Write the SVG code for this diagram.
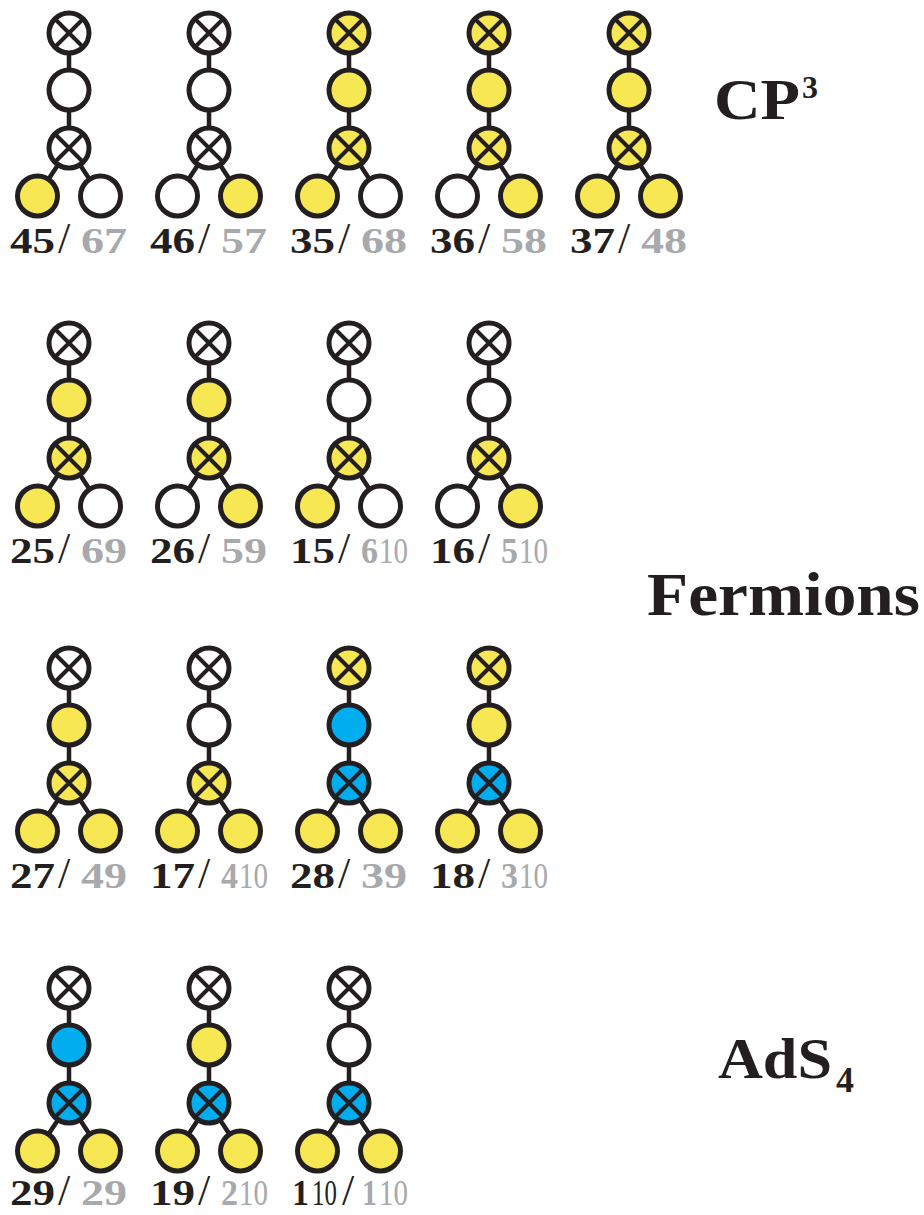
<svg xmlns="http://www.w3.org/2000/svg" xmlns:xlink="http://www.w3.org/1999/xlink" width="924" height="1215" viewBox="0 0 924 1215">
<style>
.nd circle{stroke:#231F20;stroke-width:5}
.w{fill:#FFFFFF}.y{fill:#F7E753}.b{fill:#00AEEF}
.x{stroke:#231F20;stroke-width:4;fill:none}
.cn{stroke:#231F20;stroke-width:4.5;fill:none}
.lbl{font-family:"Liberation Serif",serif;font-weight:bold;font-size:36px}
.k{fill:#231F20}.g{fill:#A7A9AC}.n{font-weight:normal}
.sl{font-weight:normal;font-size:44px;fill:#231F20}
.ttl{font-family:"Liberation Serif",serif;font-weight:bold;fill:#231F20}
</style>
<defs>
<path id="ox" class="x" d="M-14,-14L14,14M14,-14L-14,14"/>
<path id="tree" class="cn" d="M0,0V115L-31.5,163M0,115L31.5,163"/>
</defs>
<g id="connectors">
<use xlink:href="#tree" x="69" y="33"/><use xlink:href="#tree" x="209" y="33"/><use xlink:href="#tree" x="349" y="33"/><use xlink:href="#tree" x="489" y="33"/><use xlink:href="#tree" x="629" y="33"/>
<use xlink:href="#tree" x="69" y="343"/><use xlink:href="#tree" x="209" y="343"/><use xlink:href="#tree" x="349" y="343"/><use xlink:href="#tree" x="489" y="343"/>
<use xlink:href="#tree" x="69" y="668"/><use xlink:href="#tree" x="209" y="668"/><use xlink:href="#tree" x="349" y="668"/><use xlink:href="#tree" x="489" y="668"/>
<use xlink:href="#tree" x="69" y="988"/><use xlink:href="#tree" x="209" y="988"/><use xlink:href="#tree" x="349" y="988"/>
</g>

<!-- Row 1 -->
<g id="d45-67" class="nd" transform="translate(69,33)">
<circle class="w" r="20"/><use xlink:href="#ox"/><circle class="w" cy="57" r="20"/><circle class="w" cy="115" r="20"/><use xlink:href="#ox" y="115"/><circle class="y" cx="-31.5" cy="163" r="20"/><circle class="w" cx="31.5" cy="163" r="20"/>
<text class="lbl" y="220"><tspan class="k" x="-59" textLength="45" lengthAdjust="spacingAndGlyphs">45</tspan><tspan class="sl" x="-11">/</tspan><tspan class="g" x="12" textLength="46" lengthAdjust="spacingAndGlyphs">67</tspan></text>
</g>
<g id="d46-57" class="nd" transform="translate(209,33)">
<circle class="w" r="20"/><use xlink:href="#ox"/><circle class="w" cy="57" r="20"/><circle class="w" cy="115" r="20"/><use xlink:href="#ox" y="115"/><circle class="w" cx="-31.5" cy="163" r="20"/><circle class="y" cx="31.5" cy="163" r="20"/>
<text class="lbl" y="220"><tspan class="k" x="-59" textLength="45" lengthAdjust="spacingAndGlyphs">46</tspan><tspan class="sl" x="-11">/</tspan><tspan class="g" x="12" textLength="46" lengthAdjust="spacingAndGlyphs">57</tspan></text>
</g>
<g id="d35-68" class="nd" transform="translate(349,33)">
<circle class="y" r="20"/><use xlink:href="#ox"/><circle class="y" cy="57" r="20"/><circle class="y" cy="115" r="20"/><use xlink:href="#ox" y="115"/><circle class="y" cx="-31.5" cy="163" r="20"/><circle class="w" cx="31.5" cy="163" r="20"/>
<text class="lbl" y="220"><tspan class="k" x="-59" textLength="45" lengthAdjust="spacingAndGlyphs">35</tspan><tspan class="sl" x="-11">/</tspan><tspan class="g" x="12" textLength="46" lengthAdjust="spacingAndGlyphs">68</tspan></text>
</g>
<g id="d36-58" class="nd" transform="translate(489,33)">
<circle class="y" r="20"/><use xlink:href="#ox"/><circle class="y" cy="57" r="20"/><circle class="y" cy="115" r="20"/><use xlink:href="#ox" y="115"/><circle class="w" cx="-31.5" cy="163" r="20"/><circle class="y" cx="31.5" cy="163" r="20"/>
<text class="lbl" y="220"><tspan class="k" x="-59" textLength="45" lengthAdjust="spacingAndGlyphs">36</tspan><tspan class="sl" x="-11">/</tspan><tspan class="g" x="12" textLength="46" lengthAdjust="spacingAndGlyphs">58</tspan></text>
</g>
<g id="d37-48" class="nd" transform="translate(629,33)">
<circle class="y" r="20"/><use xlink:href="#ox"/><circle class="y" cy="57" r="20"/><circle class="y" cy="115" r="20"/><use xlink:href="#ox" y="115"/><circle class="y" cx="-31.5" cy="163" r="20"/><circle class="y" cx="31.5" cy="163" r="20"/>
<text class="lbl" y="220"><tspan class="k" x="-59" textLength="45" lengthAdjust="spacingAndGlyphs">37</tspan><tspan class="sl" x="-11">/</tspan><tspan class="g" x="12" textLength="46" lengthAdjust="spacingAndGlyphs">48</tspan></text>
</g>

<!-- Row 2 -->
<g id="d25-69" class="nd" transform="translate(69,343)">
<circle class="w" r="20"/><use xlink:href="#ox"/><circle class="y" cy="57" r="20"/><circle class="y" cy="115" r="20"/><use xlink:href="#ox" y="115"/><circle class="y" cx="-31.5" cy="163" r="20"/><circle class="w" cx="31.5" cy="163" r="20"/>
<text class="lbl" y="220"><tspan class="k" x="-59" textLength="45" lengthAdjust="spacingAndGlyphs">25</tspan><tspan class="sl" x="-11">/</tspan><tspan class="g" x="12" textLength="46" lengthAdjust="spacingAndGlyphs">69</tspan></text>
</g>
<g id="d26-59" class="nd" transform="translate(209,343)">
<circle class="w" r="20"/><use xlink:href="#ox"/><circle class="y" cy="57" r="20"/><circle class="y" cy="115" r="20"/><use xlink:href="#ox" y="115"/><circle class="w" cx="-31.5" cy="163" r="20"/><circle class="y" cx="31.5" cy="163" r="20"/>
<text class="lbl" y="220"><tspan class="k" x="-59" textLength="45" lengthAdjust="spacingAndGlyphs">26</tspan><tspan class="sl" x="-11">/</tspan><tspan class="g" x="12" textLength="46" lengthAdjust="spacingAndGlyphs">59</tspan></text>
</g>
<g id="d15-610" class="nd" transform="translate(349,343)">
<circle class="w" r="20"/><use xlink:href="#ox"/><circle class="w" cy="57" r="20"/><circle class="y" cy="115" r="20"/><use xlink:href="#ox" y="115"/><circle class="y" cx="-31.5" cy="163" r="20"/><circle class="w" cx="31.5" cy="163" r="20"/>
<text class="lbl" y="220"><tspan class="k" x="-59" textLength="45" lengthAdjust="spacingAndGlyphs">15</tspan><tspan class="sl" x="-11">/</tspan><tspan class="g" x="12" textLength="17" lengthAdjust="spacingAndGlyphs">6</tspan><tspan class="g n" x="30" textLength="29" lengthAdjust="spacingAndGlyphs">10</tspan></text>
</g>
<g id="d16-510" class="nd" transform="translate(489,343)">
<circle class="w" r="20"/><use xlink:href="#ox"/><circle class="w" cy="57" r="20"/><circle class="y" cy="115" r="20"/><use xlink:href="#ox" y="115"/><circle class="w" cx="-31.5" cy="163" r="20"/><circle class="y" cx="31.5" cy="163" r="20"/>
<text class="lbl" y="220"><tspan class="k" x="-59" textLength="45" lengthAdjust="spacingAndGlyphs">16</tspan><tspan class="sl" x="-11">/</tspan><tspan class="g" x="12" textLength="17" lengthAdjust="spacingAndGlyphs">5</tspan><tspan class="g n" x="30" textLength="29" lengthAdjust="spacingAndGlyphs">10</tspan></text>
</g>

<!-- Row 3 -->
<g id="d27-49" class="nd" transform="translate(69,668)">
<circle class="w" r="20"/><use xlink:href="#ox"/><circle class="y" cy="57" r="20"/><circle class="y" cy="115" r="20"/><use xlink:href="#ox" y="115"/><circle class="y" cx="-31.5" cy="163" r="20"/><circle class="y" cx="31.5" cy="163" r="20"/>
<text class="lbl" y="220"><tspan class="k" x="-59" textLength="45" lengthAdjust="spacingAndGlyphs">27</tspan><tspan class="sl" x="-11">/</tspan><tspan class="g" x="12" textLength="46" lengthAdjust="spacingAndGlyphs">49</tspan></text>
</g>
<g id="d17-410" class="nd" transform="translate(209,668)">
<circle class="w" r="20"/><use xlink:href="#ox"/><circle class="w" cy="57" r="20"/><circle class="y" cy="115" r="20"/><use xlink:href="#ox" y="115"/><circle class="y" cx="-31.5" cy="163" r="20"/><circle class="y" cx="31.5" cy="163" r="20"/>
<text class="lbl" y="220"><tspan class="k" x="-59" textLength="45" lengthAdjust="spacingAndGlyphs">17</tspan><tspan class="sl" x="-11">/</tspan><tspan class="g" x="12" textLength="17" lengthAdjust="spacingAndGlyphs">4</tspan><tspan class="g n" x="30" textLength="29" lengthAdjust="spacingAndGlyphs">10</tspan></text>
</g>
<g id="d28-39" class="nd" transform="translate(349,668)">
<circle class="y" r="20"/><use xlink:href="#ox"/><circle class="b" cy="57" r="20"/><circle class="b" cy="115" r="20"/><use xlink:href="#ox" y="115"/><circle class="y" cx="-31.5" cy="163" r="20"/><circle class="y" cx="31.5" cy="163" r="20"/>
<text class="lbl" y="220"><tspan class="k" x="-59" textLength="45" lengthAdjust="spacingAndGlyphs">28</tspan><tspan class="sl" x="-11">/</tspan><tspan class="g" x="12" textLength="46" lengthAdjust="spacingAndGlyphs">39</tspan></text>
</g>
<g id="d18-310" class="nd" transform="translate(489,668)">
<circle class="y" r="20"/><use xlink:href="#ox"/><circle class="y" cy="57" r="20"/><circle class="b" cy="115" r="20"/><use xlink:href="#ox" y="115"/><circle class="y" cx="-31.5" cy="163" r="20"/><circle class="y" cx="31.5" cy="163" r="20"/>
<text class="lbl" y="220"><tspan class="k" x="-59" textLength="45" lengthAdjust="spacingAndGlyphs">18</tspan><tspan class="sl" x="-11">/</tspan><tspan class="g" x="12" textLength="17" lengthAdjust="spacingAndGlyphs">3</tspan><tspan class="g n" x="30" textLength="29" lengthAdjust="spacingAndGlyphs">10</tspan></text>
</g>

<!-- Row 4 -->
<g id="d29-29" class="nd" transform="translate(69,988)">
<circle class="w" r="20"/><use xlink:href="#ox"/><circle class="b" cy="57" r="20"/><circle class="b" cy="115" r="20"/><use xlink:href="#ox" y="115"/><circle class="y" cx="-31.5" cy="163" r="20"/><circle class="y" cx="31.5" cy="163" r="20"/>
<text class="lbl" y="217"><tspan class="k" x="-59" textLength="45" lengthAdjust="spacingAndGlyphs">29</tspan><tspan class="sl" x="-11" font-size="40">/</tspan><tspan class="g" x="12" textLength="46" lengthAdjust="spacingAndGlyphs">29</tspan></text>
</g>
<g id="d19-210" class="nd" transform="translate(209,988)">
<circle class="w" r="20"/><use xlink:href="#ox"/><circle class="y" cy="57" r="20"/><circle class="b" cy="115" r="20"/><use xlink:href="#ox" y="115"/><circle class="y" cx="-31.5" cy="163" r="20"/><circle class="y" cx="31.5" cy="163" r="20"/>
<text class="lbl" y="217"><tspan class="k" x="-59" textLength="45" lengthAdjust="spacingAndGlyphs">19</tspan><tspan class="sl" x="-11" font-size="40">/</tspan><tspan class="g" x="12" textLength="17" lengthAdjust="spacingAndGlyphs">2</tspan><tspan class="g n" x="30" textLength="29" lengthAdjust="spacingAndGlyphs">10</tspan></text>
</g>
<g id="d110-110" class="nd" transform="translate(349,988)">
<circle class="w" r="20"/><use xlink:href="#ox"/><circle class="w" cy="57" r="20"/><circle class="b" cy="115" r="20"/><use xlink:href="#ox" y="115"/><circle class="y" cx="-31.5" cy="163" r="20"/><circle class="y" cx="31.5" cy="163" r="20"/>
<text class="lbl k" x="-57" y="217" textLength="17" lengthAdjust="spacingAndGlyphs">1</text>
<text class="lbl k n" transform="translate(-37,217) scale(0.69,1)">10</text>
<text class="lbl" y="217"><tspan class="sl" x="-7" font-size="40">/</tspan><tspan class="g" x="13" textLength="15" lengthAdjust="spacingAndGlyphs">1</tspan><tspan class="g n" x="30" textLength="29" lengthAdjust="spacingAndGlyphs">10</tspan></text>
</g>

<!-- Titles -->
<g id="title-cp3"><text class="ttl" x="714" y="119" font-size="56"><tspan textLength="86" lengthAdjust="spacingAndGlyphs">CP</tspan><tspan x="802" y="98" font-size="32">3</tspan></text></g>
<g id="title-fermions"><text class="ttl" x="647" y="615" font-size="62" textLength="273" lengthAdjust="spacingAndGlyphs">Fermions</text></g>
<g id="title-ads4"><text class="ttl" x="718" y="1078" font-size="58"><tspan textLength="114" lengthAdjust="spacingAndGlyphs">AdS</tspan><tspan x="836" y="1092" font-size="36">4</tspan></text></g>
</svg>
